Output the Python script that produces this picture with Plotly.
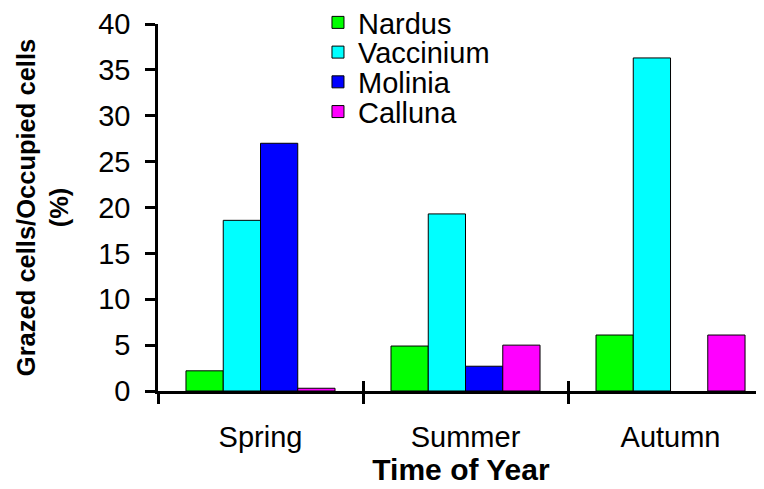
import plotly.graph_objects as go

categories = ["Spring", "Summer", "Autumn"]
series_names = ["Nardus", "Vaccinium", "Molinia", "Calluna"]
nardus = [2.2, 4.9, 6.1]
vaccinium = [18.6, 19.3, 36.3]
molinia = [27.0, 2.7, None]
calluna = [0.3, 5.0, 6.1]
colors = ["#00FF00", "#00FFFF", "#0000FF", "#FF00FF"]
y_ticks = [0, 5, 10, 15, 20, 25, 30, 35, 40]

FONT = "Liberation Sans, Arial, sans-serif"
legend_ids = ["legend", "legend2", "legend3", "legend4"]
legend_y = [1.004, 0.923, 0.842, 0.761]

fig = go.Figure()
for name, vals, col, lg in zip(series_names, [nardus, vaccinium, molinia, calluna], colors, legend_ids):
    fig.add_trace(go.Bar(
        x=categories, y=vals, name=name, legend=lg,
        marker=dict(color=col, line=dict(color="#000000", width=1)),
    ))

# empty helper trace so the overlay axis (inside half of crossing ticks) is drawn
fig.add_trace(go.Scatter(x=[], y=[], xaxis="x2", yaxis="y", showlegend=False, hoverinfo="skip"))

n = len(categories)
xr = [-0.5, n - 0.5 - 0.044]
boundaries = [i - 0.5 for i in range(n + 1)]

legends = {}
for lg, ly in zip(legend_ids, legend_y):
    legends[lg] = dict(x=0.264, y=ly, xanchor="left", yanchor="middle",
                       bgcolor="rgba(0,0,0,0)", font=dict(size=29, family=FONT),
                       tracegroupgap=0, itemwidth=30)

fig.update_layout(
    width=756, height=481,
    margin=dict(l=150, r=0, t=16, b=98, autoexpand=False),
    paper_bgcolor="white", plot_bgcolor="white",
    font=dict(family=FONT, color="black", size=28),
    barmode="group", bargap=0.273, bargroupgap=0,
    showlegend=True,
    **legends,
    xaxis=dict(
        type="category", range=xr, showgrid=False, zeroline=False,
        showline=True, linecolor="black", linewidth=3,
        ticks="outside", ticklen=10, tickwidth=2.5, tickcolor="black",
        tickson="boundaries", ticklabelstandoff=18,
        tickfont=dict(size=29, family=FONT),
        title=dict(text="<b>Time of Year</b>", font=dict(size=30, family=FONT), standoff=0),
        automargin=False,
    ),
    xaxis2=dict(
        overlaying="x", anchor="y", range=xr, showgrid=False, zeroline=False,
        showline=False, tickvals=boundaries, showticklabels=False,
        ticks="inside", ticklen=10, tickwidth=2.5, tickcolor="black",
        side="bottom",
    ),
    yaxis=dict(
        range=[0, 40], tickvals=y_ticks, showgrid=False, zeroline=False,
        showline=True, linecolor="black", linewidth=2.5,
        ticks="outside", ticklen=10, tickwidth=2.5, tickcolor="black",
        ticklabelstandoff=9,
        tickfont=dict(size=29, family=FONT),
        title=dict(text="<b>Grazed cells/Occupied cells<br>(%)</b>",
                   font=dict(size=25.5, family=FONT), standoff=23),
        automargin=False,
    ),
)

fig.write_html("out.html")
